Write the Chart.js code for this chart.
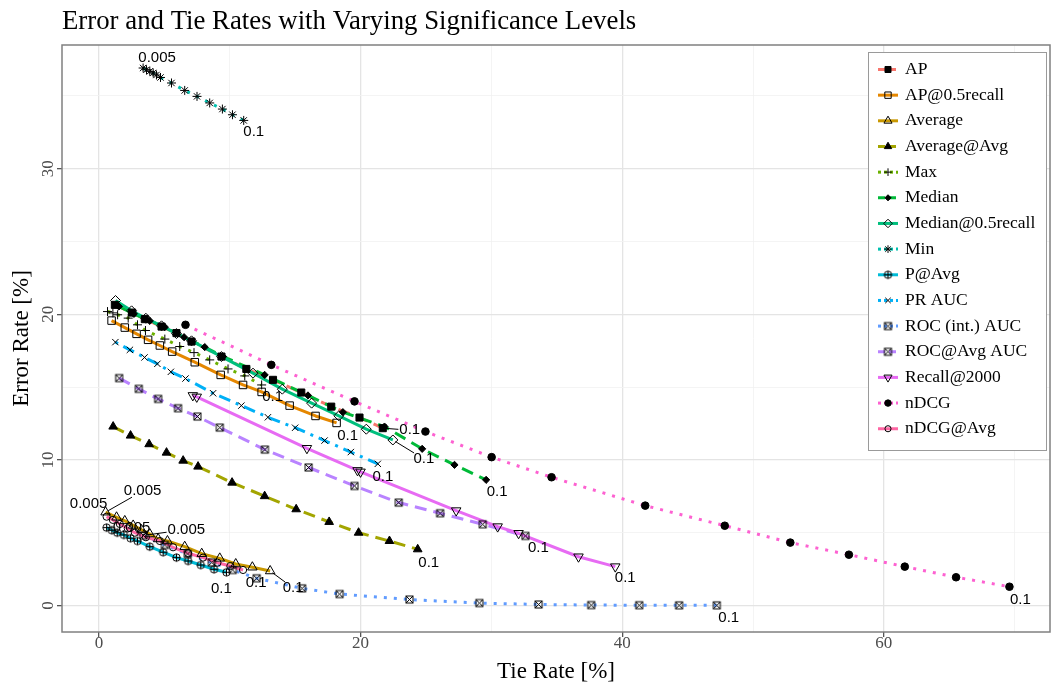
<!DOCTYPE html>
<html>
<head>
<meta charset="utf-8">
<script src="https://cdn.jsdelivr.net/npm/chart.js@4.4.1/dist/chart.umd.min.js"></script>
<style>
html, body { margin: 0; padding: 0; background: #fff; }
</style>
</head>
<body>
<canvas id="chart" width="1051" height="687"></canvas>
<script>
// series names, in legend order
const seriesNames = ["AP", "AP@0.5recall", "Average", "Average@Avg", "Max", "Median",
  "Median@0.5recall", "Min", "P@Avg", "PR AUC", "ROC (int.) AUC", "ROC@Avg AUC",
  "Recall@2000", "nDCG", "nDCG@Avg"];

// [tie rate %, error rate %], significance 0.005 -> 0.1
const apData = [[1.22,20.65],[2.54,20.12],[3.51,19.67],[4.79,19.16],[5.93,18.71],[7.08,18.13],[9.37,17.10],[11.27,16.25],[13.31,15.50],[15.47,14.63],[17.76,13.66],[19.92,12.91],[21.70,12.18]];
const ap05Data = [[0.97,19.57],[1.98,19.09],[2.88,18.66],[3.76,18.25],[4.66,17.86],[5.60,17.44],[7.33,16.71],[9.31,15.84],[11.02,15.15],[12.44,14.67],[14.58,13.73],[16.56,13.02],[18.17,12.54]];
const averageData = [[0.51,6.41],[1.35,6.06],[1.98,5.81],[2.62,5.50],[3.26,5.19],[3.89,4.91],[4.53,4.57],[5.24,4.43],[6.56,4.04],[7.86,3.56],[9.24,3.24],[10.46,2.85],[11.73,2.63],[13.09,2.37]];
const averageAvgData = [[1.09,12.29],[2.42,11.67],[3.84,11.08],[5.17,10.50],[6.44,9.95],[7.58,9.54],[10.18,8.44],[12.67,7.51],[15.08,6.61],[17.60,5.74],[19.85,5.00],[22.21,4.43],[24.37,3.86]];
const maxData = [[0.66,20.19],[1.07,20.10],[1.43,19.97],[2.24,19.74],[2.95,19.28],[3.56,18.89],[5.04,18.30],[6.18,17.79],[7.27,17.37],[8.47,16.87],[9.87,16.25],[11.15,15.77],[12.44,15.15]];
const medianData = [[1.53,20.54],[2.67,20.03],[3.89,19.55],[5.04,19.12],[6.51,18.43],[8.09,17.75],[9.49,17.10],[12.67,15.84],[15.98,14.43],[18.65,13.28],[21.83,12.29],[24.71,10.76],[27.18,9.66],[29.60,8.63]];
const median05Data = [[1.27,20.95],[2.50,20.24],[3.59,19.73],[4.79,19.21],[5.93,18.68],[7.08,18.18],[9.37,17.10],[11.78,15.96],[14.02,14.86],[16.26,13.90],[18.34,13.03],[20.44,12.11],[22.47,11.37]];
const minData = [[3.38,36.92],[3.64,36.80],[3.89,36.69],[4.15,36.58],[4.40,36.44],[4.71,36.27],[5.55,35.89],[6.56,35.38],[7.50,34.97],[8.47,34.52],[9.44,34.10],[10.21,33.71],[11.07,33.32]];
const pAvgData = [[0.59,5.35],[0.99,5.17],[1.40,5.00],[1.91,4.85],[2.42,4.62],[2.95,4.43],[3.89,4.04],[4.91,3.66],[5.93,3.29],[6.82,3.06],[7.79,2.78],[8.80,2.49],[9.75,2.28]];
const prAucData = [[1.26,18.09],[2.37,17.56],[3.49,17.04],[4.47,16.60],[5.50,16.05],[6.62,15.59],[8.73,14.58],[10.89,13.73],[12.92,12.93],[15.00,12.21],[17.25,11.33],[19.26,10.54],[21.32,9.73]];
const rocIntData = [[3.40,4.81],[5.04,4.16],[6.79,3.54],[8.63,2.96],[10.23,2.44],[12.06,1.87],[15.53,1.18],[18.40,0.79],[23.74,0.41],[29.08,0.17],[33.61,0.07],[37.63,0.03],[41.30,0.02],[44.35,0.01],[47.23,0.01]];
const rocAvgData = [[1.55,15.62],[3.05,14.88],[4.53,14.19],[6.05,13.55],[7.53,12.98],[9.24,12.22],[12.69,10.71],[16.03,9.48],[19.54,8.21],[22.92,7.07],[26.08,6.34],[29.34,5.58],[32.60,4.78]];
const recallData = [[7.18,14.43],[7.48,14.33],[15.90,10.80],[19.77,9.28],[20.00,9.18],[27.31,6.52],[30.48,5.42],[32.08,4.96],[36.66,3.35],[39.47,2.67]];
const ndcgData = [[6.62,19.28],[13.18,16.53],[19.54,14.02],[24.96,11.95],[30.02,10.19],[34.60,8.81],[41.76,6.86],[47.84,5.48],[52.85,4.32],[57.33,3.49],[61.60,2.67],[65.52,1.94],[69.60,1.29]];
const ndcgAvgData = [[0.59,6.10],[1.07,5.88],[1.60,5.60],[2.21,5.29],[2.75,5.00],[3.59,4.69],[4.66,4.43],[5.67,4.00],[6.82,3.59],[7.96,3.29],[9.06,2.94],[10.05,2.71],[11.02,2.44]];

const allData = [apData, ap05Data, averageData, averageAvgData, maxData, medianData,
  median05Data, minData, pAvgData, prAucData, rocIntData, rocAvgData, recallData, ndcgData, ndcgAvgData];

const xTicks = [0, 20, 40, 60];
const yTicks = [0, 10, 20, 30];

// significance level labels: series index, 'first'/'last', text, offset, leader line
const levelLabels = [
  [7, "first", "0.005", 14, -10, false],
  [7, "last", "0.1", 10, 11.5, false],
  [0, "last", "0.1", 27, 2, true],
  [1, "last", "0.1", 11, 13, false],
  [4, "last", "0.1", 11, 12, false],
  [5, "last", "0.1", 11, 12, false],
  [6, "last", "0.1", 31, 19, true],
  [9, "last", "0.1", 5, 13.5, false],
  [12, "last", "0.1", 10, 11.5, false],
  [11, "last", "0.1", 13, 12, false],
  [3, "last", "0.1", 11, 14, false],
  [2, "last", "0.1", 23, 17, true],
  [2, "first", "0.005", 37, -21, true],
  [14, "last", "0.1", 13, 13, false],
  [14, "first", "0.005", -18, -13, false],
  [8, "last", "0.1", -5, 16.5, false],
  [8, "first", "0.005", 25, 0, false],
  [10, "last", "0.1", 12, 13, false],
  [10, "first", "0.005", 43, -6, true],
  [13, "last", "0.1", 11, 13, false]
];

function makeMarker(kind){
  const c = document.createElement("canvas");
  c.width = 11; c.height = 11;
  const g = c.getContext("2d");
  g.strokeStyle = "#000";
  g.lineWidth = 1;
  if(kind === "circlePlus"){
    g.beginPath(); g.arc(5.5, 5.5, 3.7, 0, Math.PI * 2); g.stroke();
    g.beginPath();
    g.moveTo(5.5, 1.8); g.lineTo(5.5, 9.2);
    g.moveTo(1.8, 5.5); g.lineTo(9.2, 5.5);
    g.stroke();
  }else{
    g.strokeRect(2, 2, 7, 7);
    g.beginPath();
    g.moveTo(2, 2); g.lineTo(9, 9);
    g.moveTo(9, 2); g.lineTo(2, 9);
    g.stroke();
  }
  return c;
}

const circlePlus = makeMarker("circlePlus");
const squareCross = makeMarker("squareCross");
const NONE = "rgba(0,0,0,0)";
const DASHED = [12, 7];
const DOTTED = [3, 7];
const DOTDASH = [3, 6, 12, 6];

const styles = [
  { color: "#F8766D", dash: DASHED, point: "rect", r: 5, fill: "#000" },
  { color: "#E58700", dash: [], point: "rect", r: 5.3, fill: NONE },
  { color: "#C99800", dash: [], point: "triangle", r: 5.5, fill: NONE },
  { color: "#A3A500", dash: DASHED, point: "triangle", r: 5, fill: "#000" },
  { color: "#6BB100", dash: DOTTED, point: "cross", r: 4.5, fill: NONE },
  { color: "#00BA38", dash: DASHED, point: "rectRot", r: 3.6, fill: "#000" },
  { color: "#00BF7D", dash: [], point: "rectRot", r: 5, fill: NONE },
  { color: "#00C0AF", dash: DOTTED, point: "star", r: 4.5, fill: NONE },
  { color: "#00BCD8", dash: [], point: circlePlus, r: 4, fill: NONE },
  { color: "#00B0F6", dash: DOTDASH, point: "crossRot", r: 4.5, fill: NONE },
  { color: "#619CFF", dash: DOTTED, point: squareCross, r: 4, fill: NONE },
  { color: "#B983FF", dash: DASHED, point: squareCross, r: 4, fill: NONE },
  { color: "#E76BF3", dash: [], point: "triangle", rot: 180, r: 5.5, fill: NONE },
  { color: "#FD61D1", dash: DOTTED, point: "circle", r: 3.8, fill: "#000" },
  { color: "#FF67A4", dash: [], point: "circle", r: 3.6, fill: NONE }
];

const datasets = [];

allData.forEach(function(d, i){
  const pts = d.map(p => ({ x: p[0], y: p[1] }));
  const st = styles[i];
  datasets.push({
    label: seriesNames[i],
    data: pts,
    showLine: true,
    borderColor: st.color,
    borderWidth: 3,
    borderDash: st.dash,
    borderCapStyle: "butt",
    borderJoinStyle: "round",
    pointRadius: 0,
    order: 100 - i
  });
  datasets.push({
    label: seriesNames[i] + " points",
    data: pts,
    showLine: false,
    pointStyle: st.point,
    pointRadius: st.r,
    pointRotation: st.rot || 0,
    pointBackgroundColor: st.fill,
    pointBorderColor: "#000",
    pointBorderWidth: 1,
    order: 50 - i
  });
});

const MAJOR = "#e4e4e4";
const MINOR = "#f1f1f1";

const decorPlugin = {
  id: "decor",
  afterDatasetsDraw(chart){
    const ctx = chart.ctx;
    const a = chart.chartArea;
    const xs = chart.scales.x, ys = chart.scales.y;
    ctx.save();

    // panel border
    ctx.strokeStyle = "#808080";
    ctx.lineWidth = 1.5;
    ctx.strokeRect(a.left, a.top, a.right - a.left, a.bottom - a.top);

    // significance labels
    ctx.font = '15px "Liberation Sans"';
    ctx.textAlign = "center";
    ctx.textBaseline = "middle";
    levelLabels.forEach(function(l){
      const d = allData[l[0]];
      const p = l[1] === "first" ? d[0] : d[d.length - 1];
      const px = xs.getPixelForValue(p[0]);
      const py = ys.getPixelForValue(p[1]);
      const cx = px + l[3], cy = py + l[4];
      if(l[5]){
        const hw = ctx.measureText(l[2]).width / 2 + 1, hh = 6;
        const vx = px - cx, vy = py - cy;
        const t = Math.min(hw / Math.abs(vx || 1e-6), hh / Math.abs(vy || 1e-6));
        const ex = cx + vx * t, ey = cy + vy * t;
        const len = Math.hypot(px - ex, py - ey);
        const sx = px - (px - ex) * 3 / len, sy = py - (py - ey) * 3 / len;
        ctx.strokeStyle = "#000";
        ctx.lineWidth = 1;
        ctx.beginPath(); ctx.moveTo(ex, ey); ctx.lineTo(sx, sy); ctx.stroke();
      }
      ctx.fillStyle = "#000";
      ctx.fillText(l[2], cx, cy);
    });
    ctx.restore();
  },
  afterDraw(chart){
    const ctx = chart.ctx;
    const a = chart.chartArea;
    const xs = chart.scales.x, ys = chart.scales.y;
    ctx.save();

    // title
    ctx.fillStyle = "#000";
    ctx.font = '26.8px "Liberation Serif"';
    ctx.textAlign = "left";
    ctx.textBaseline = "alphabetic";
    ctx.fillText("Error and Tie Rates with Varying Significance Levels", a.left, 29);

    // tick labels
    ctx.fillStyle = "#4d4d4d";
    ctx.font = '17px "Liberation Serif"';
    ctx.textAlign = "center";
    ctx.textBaseline = "middle";
    xTicks.forEach(function(v){
      ctx.fillText(String(v), xs.getPixelForValue(v), a.bottom + 12);
    });
    yTicks.forEach(function(v){
      ctx.save();
      ctx.translate(a.left - 13, ys.getPixelForValue(v));
      ctx.rotate(-Math.PI / 2);
      ctx.fillText(String(v), 0, 0);
      ctx.restore();
    });

    // legend
    const lx = a.right - 182, ly = a.top + 7;
    ctx.fillStyle = "#fff";
    ctx.fillRect(lx, ly, 178, 398);
    ctx.strokeStyle = "#9a9a9a";
    ctx.lineWidth = 1;
    ctx.strokeRect(lx + 0.5, ly + 0.5, 178, 398);
    seriesNames.forEach(function(name, i){
      const st = styles[i];
      const y = ly + 17.5 + i * 25.66;
      ctx.strokeStyle = st.color;
      ctx.lineWidth = 3;
      ctx.lineCap = "butt";
      ctx.setLineDash(st.dash.length ? [3, 3] : []);
      if(st.dash === DASHED) ctx.setLineDash([7, 4]);
      ctx.beginPath(); ctx.moveTo(lx + 10, y); ctx.lineTo(lx + 30, y); ctx.stroke();
      ctx.setLineDash([]);
      ctx.fillStyle = st.fill;
      ctx.strokeStyle = "#000";
      ctx.lineWidth = 1;
      Chart.helpers.drawPoint(ctx, {
        pointStyle: st.point, radius: st.r * 0.85, rotation: st.rot || 0, borderWidth: 1
      }, lx + 20, y);
      ctx.fillStyle = "#000";
      ctx.font = '17.5px "Liberation Serif"';
      ctx.textAlign = "left";
      ctx.textBaseline = "middle";
      ctx.fillText(name, lx + 37, y);
    });
    ctx.restore();
  }
};

new Chart(document.getElementById("chart"), {
  type: "scatter",
  data: { datasets: datasets },
  plugins: [decorPlugin],
  options: {
    responsive: false,
    animation: false,
    events: [],
    layout: { autoPadding: false, padding: { top: 45, right: 1, bottom: 0, left: 0 } },
    plugins: {
      legend: { display: false },
      tooltip: { enabled: false },
      title: { display: false }
    },
    scales: {
      x: {
        type: "linear",
        min: -2.82,
        max: 72.7,
        afterFit: function(s){ s.height = 55; },
        border: { display: false },
        grid: {
          color: c => (c.tick && c.tick.value % 20 === 0) ? MAJOR : MINOR,
          lineWidth: c => (c.tick && c.tick.value % 20 === 0) ? 1.3 : 0.8,
          tickColor: c => (c.tick && c.tick.value % 20 === 0) ? "#555" : NONE,
          tickLength: 5
        },
        ticks: {
          stepSize: 10,
          includeBounds: false,
          autoSkip: false,
          maxRotation: 0,
          callback: () => ""
        },
        title: {
          display: true,
          text: "Tie Rate [%]",
          color: "#000",
          font: { family: "Liberation Serif", size: 23 },
          padding: { top: 0, bottom: 1 }
        }
      },
      y: {
        type: "linear",
        min: -1.82,
        max: 38.5,
        afterFit: function(s){ s.width = 62; },
        border: { display: false },
        grid: {
          color: c => (c.tick && c.tick.value % 10 === 0) ? MAJOR : MINOR,
          lineWidth: c => (c.tick && c.tick.value % 10 === 0) ? 1.3 : 0.8,
          tickColor: c => (c.tick && c.tick.value % 10 === 0) ? "#555" : NONE,
          tickLength: 5
        },
        ticks: {
          stepSize: 5,
          includeBounds: false,
          autoSkip: false,
          callback: () => ""
        },
        title: {
          display: true,
          text: "Error Rate [%]",
          color: "#000",
          font: { family: "Liberation Serif", size: 23 },
          padding: { top: 8, bottom: 0 }
        }
      }
    }
  }
});
</script>
</body>
</html>
